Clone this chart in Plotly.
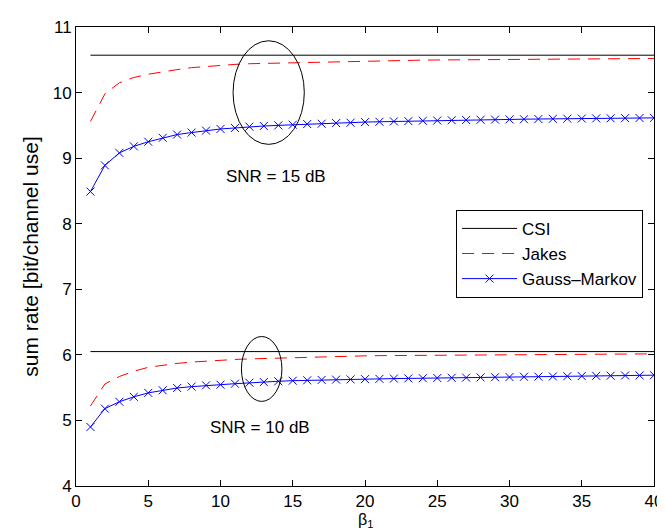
import plotly.graph_objects as go

beta = list(range(1, 41))

csi_15 = 10.57
csi_10 = 6.05

jakes_15 = [9.56, 9.98, 10.15, 10.23, 10.28, 10.32, 10.35, 10.38, 10.40, 10.41,
            10.43, 10.44, 10.445, 10.45, 10.46, 10.465, 10.47, 10.475, 10.48, 10.483,
            10.486, 10.489, 10.492, 10.495, 10.497, 10.499, 10.501, 10.503, 10.505, 10.507,
            10.509, 10.51, 10.512, 10.513, 10.514, 10.515, 10.516, 10.517, 10.518, 10.52]

gm_15 = [8.49, 8.89, 9.08, 9.18, 9.25, 9.31, 9.36, 9.39, 9.42, 9.445,
         9.46, 9.48, 9.49, 9.50, 9.51, 9.52, 9.525, 9.535, 9.54, 9.55,
         9.555, 9.56, 9.565, 9.57, 9.574, 9.578, 9.582, 9.585, 9.588, 9.591,
         9.594, 9.597, 9.60, 9.602, 9.604, 9.606, 9.608, 9.61, 9.612, 9.614]

jakes_10 = [5.22, 5.556, 5.67, 5.75, 5.81, 5.845, 5.87, 5.89, 5.905, 5.92,
            5.93, 5.938, 5.945, 5.952, 5.96, 5.965, 5.97, 5.975, 5.98, 5.985,
            5.988, 5.99, 5.992, 5.994, 5.996, 5.998, 6.0, 6.001, 6.003, 6.004,
            6.005, 6.007, 6.008, 6.009, 6.01, 6.011, 6.012, 6.013, 6.014, 6.015]

gm_10 = [4.90, 5.18, 5.285, 5.36, 5.42, 5.46, 5.495, 5.515, 5.535, 5.545,
         5.56, 5.575, 5.585, 5.597, 5.606, 5.612, 5.618, 5.622, 5.626, 5.63,
         5.634, 5.638, 5.641, 5.644, 5.647, 5.65, 5.653, 5.656, 5.659, 5.662,
         5.665, 5.668, 5.671, 5.674, 5.677, 5.68, 5.682, 5.685, 5.687, 5.69]

x_ticks = [0, 5, 10, 15, 20, 25, 30, 35, 40]
y_ticks = [4, 5, 6, 7, 8, 9, 10, 11]

FONT = "Liberation Sans, Arial, sans-serif"

fig = go.Figure()

def add_group(csi, jakes, gm, show):
    fig.add_trace(go.Scatter(x=[beta[0], beta[-1]], y=[csi, csi], mode="lines",
                             line=dict(color="black", width=1), name="CSI",
                             showlegend=show, legendgroup="csi"))
    fig.add_trace(go.Scatter(x=beta, y=jakes, mode="lines",
                             line=dict(color="#ff0000", width=1, dash="12px,8px"),
                             name="Jakes", showlegend=show, legendgroup="jakes"))
    fig.add_trace(go.Scatter(x=beta, y=gm, mode="lines+markers",
                             line=dict(color="#0000ff", width=1),
                             marker=dict(symbol="x-thin", size=8,
                                         line=dict(color="#0000ff", width=1)),
                             name="Gauss\u2013Markov", showlegend=show, legendgroup="gm"))

add_group(csi_15, jakes_15, gm_15, True)
add_group(csi_10, jakes_10, gm_10, False)

# ellipses
fig.add_shape(type="circle", xref="x", yref="y", x0=10.87, x1=15.8, y0=9.21, y1=10.79,
              line=dict(color="black", width=1))
fig.add_shape(type="circle", xref="x", yref="y", x0=11.45, x1=14.25, y0=5.29, y1=6.28,
              line=dict(color="black", width=1))

fig.add_annotation(x=13.85, y=8.72, text="SNR = 15 dB", showarrow=False,
                   font=dict(family=FONT, size=17, color="black"))
fig.add_annotation(x=12.73, y=4.885, text="SNR = 10 dB", showarrow=False,
                   font=dict(family=FONT, size=17, color="black"))

# x-axis title as annotation to keep it inside the page
fig.add_annotation(xref="paper", yref="paper", x=0.5, y=0, xanchor="center", yanchor="top",
                   yshift=-23, text="\u03b2<sub>1</sub>", showarrow=False,
                   font=dict(family=FONT, size=16, color="black"))

axis_common = dict(showgrid=False, zeroline=False, showline=True, linecolor="black",
                   linewidth=1, mirror="ticks", ticks="inside", ticklen=6,
                   tickcolor="black", tickfont=dict(family=FONT, size=17, color="black"))

fig.update_xaxes(range=[0, 40], tickvals=x_ticks, **axis_common)
fig.update_yaxes(range=[4, 11], tickvals=y_ticks,
                 title=dict(text="sum rate [bit/channel use]",
                            font=dict(family=FONT, size=21, color="black"), standoff=8),
                 **axis_common)

fig.update_layout(
    width=665, height=529,
    margin=dict(l=68, r=10, t=15, b=51),
    plot_bgcolor="white", paper_bgcolor="white",
    showlegend=True,
    legend=dict(x=0.981, y=0.6016, xanchor="right", yanchor="top",
                bgcolor="white", bordercolor="black", borderwidth=1,
                font=dict(family=FONT, size=17, color="black"),
                tracegroupgap=0, itemwidth=55),
)

fig.write_html("out.html")
